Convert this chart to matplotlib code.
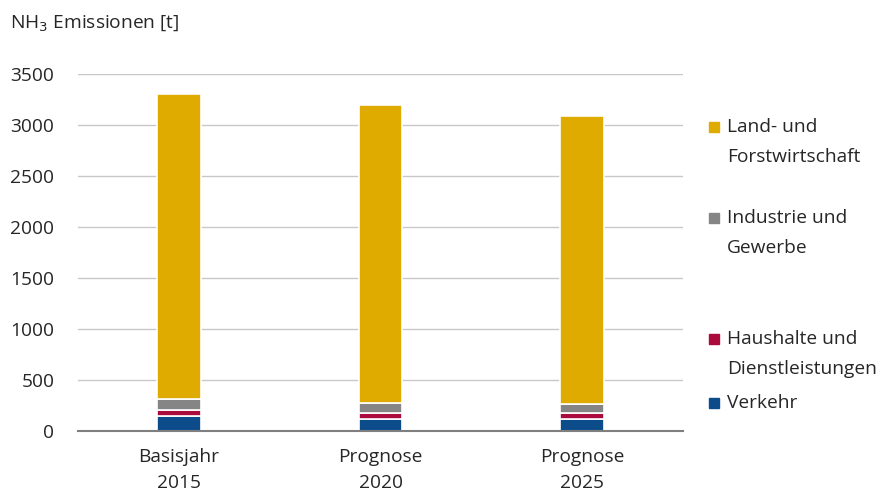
import matplotlib
matplotlib.use("Agg")
import matplotlib.pyplot as plt
from matplotlib.patches import Rectangle
import numpy as np

plt.rcParams['font.family'] = ['Open Sans', 'DejaVu Sans']

categories = ["Basisjahr\n2015", "Prognose\n2020", "Prognose\n2025"]
sectors = ["Verkehr", "Haushalte und\nDienstleistungen", "Industrie und\nGewerbe",
           "Land- und\nForstwirtschaft"]
verkehr = [150, 115, 115]
haushalte = [60, 62, 60]
industrie = [102, 98, 88]
landwirtschaft = [2988, 2925, 2827]
colors = ["#0D4C8B", "#AA0A3C", "#858585", "#E0AB00"]

series = [verkehr, haushalte, industrie, landwirtschaft]

W, H = 893, 492
FS = 13.8
TXT = "#262626"
fig = plt.figure(figsize=(W / 100, H / 100), dpi=100)
ax = fig.add_axes([78 / W, 1 - 431 / H, 605 / W, 357 / H])

x = np.arange(len(categories))
bottom = np.zeros(len(categories))
for vals, col in zip(series, colors):
    ax.bar(x, vals, width=0.215, bottom=bottom, color=col,
           edgecolor="white", linewidth=1.2, zorder=3)
    bottom += np.array(vals)

ax.set_xlim(-0.5, 2.5)
ax.set_ylim(0, 3500)
ax.set_yticks(np.arange(0, 3501, 500))
ax.yaxis.grid(True, color="#C8C8C8", linewidth=1.0, zorder=0)
for s in ["top", "right", "left"]:
    ax.spines[s].set_visible(False)
ax.spines["bottom"].set_color("#7F7F7F")
ax.spines["bottom"].set_linewidth(1.5)
ax.spines["bottom"].set_zorder(4)
ax.tick_params(axis="both", length=0, labelsize=FS, colors=TXT)
ax.tick_params(axis="x", pad=12)
ax.tick_params(axis="y", pad=17)
ax.set_xticks(x)
ax.set_xticklabels(categories, linespacing=1.6)

fig.text(10 / W, 1 - 23 / H, r"NH$_3$ Emissionen [t]", fontsize=FS,
         color=TXT, va="center", ha="left")

# legend, top entry first; each line placed separately
leg_rows = [(127, 3), (218, 2), (339, 1), (403, 0)]
for ypix, idx in leg_rows:
    fig.patches.append(Rectangle((709 / W, 1 - (ypix + 5) / H), 10 / W, 10 / H,
                                 transform=fig.transFigure, color=colors[idx]))
    for i, line in enumerate(sectors[idx].split("\n")):
        fig.text(727 / W, 1 - (ypix + 30 * i) / H, line, fontsize=FS,
                 color=TXT, va="center", ha="left")

fig.savefig("out.png", dpi=100)
